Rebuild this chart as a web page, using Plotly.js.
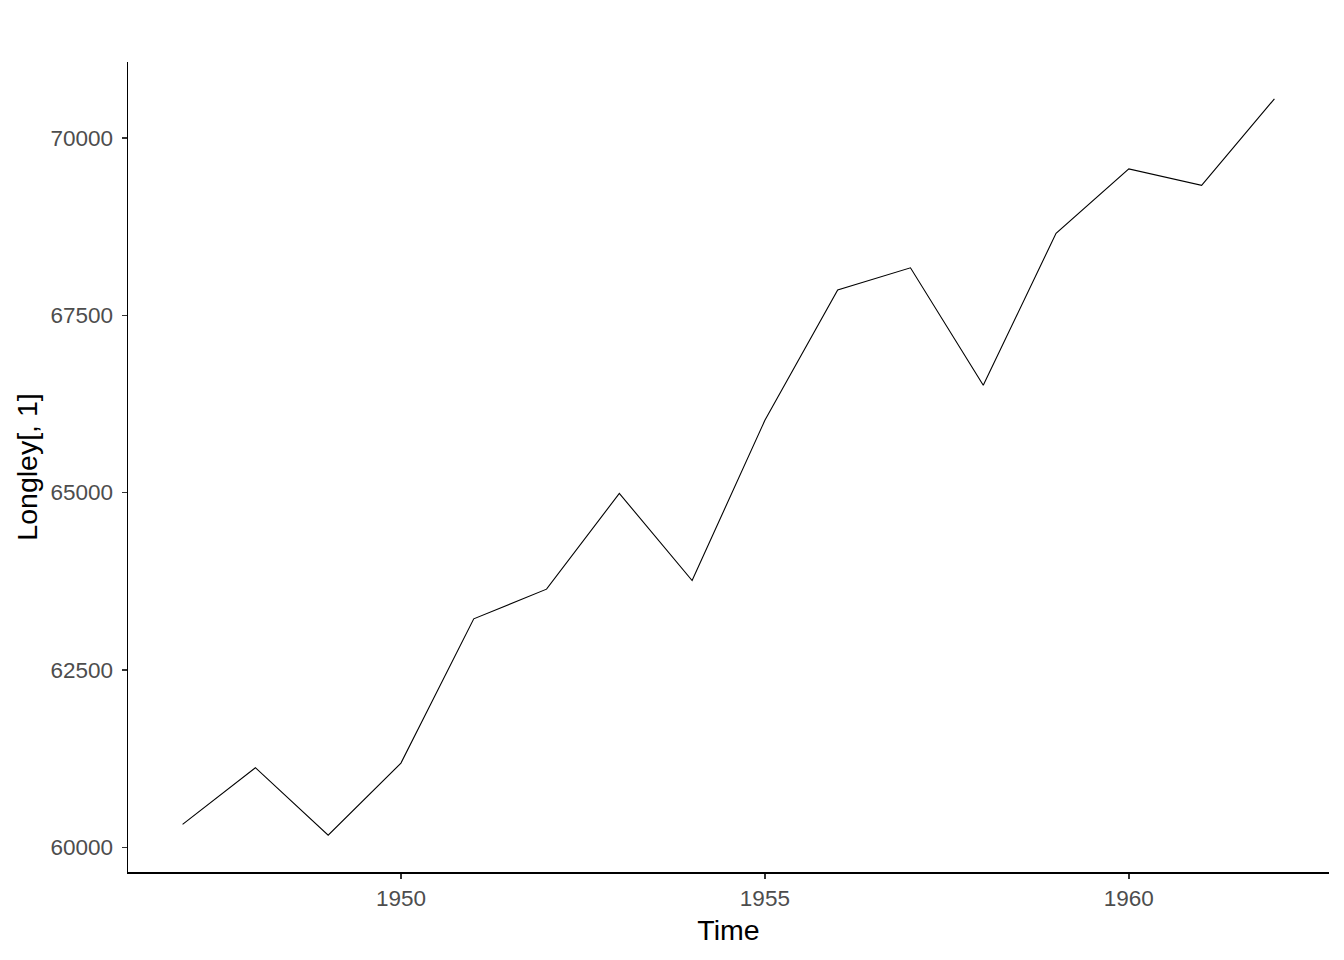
<!DOCTYPE html>
<html>
<head>
<meta charset="utf-8">
<script src="https://cdn.plot.ly/plotly-3.0.1.min.js"></script>
<style>html,body{margin:0;padding:0;background:#fff;}#chart{width:1344px;height:960px;}</style>
</head>
<body>
<div id="chart"></div>
<script>
const years = [1947,1948,1949,1950,1951,1952,1953,1954,1955,1956,1957,1958,1959,1960,1961,1962];
const employed = [60323,61122,60171,61187,63221,63639,64989,63761,66019,67857,68169,66513,68655,69564,69331,70551];
const xTicks = [1950,1955,1960];
const yTicks = [60000,62500,65000,67500,70000];

const trace = {
  x: years, y: employed, type: 'scatter', mode: 'lines',
  line: {color: '#000000', width: 1.1}, hoverinfo: 'x+y'
};
const font = {family: 'Liberation Sans, Arial, sans-serif'};
const layout = {
  width: 1344, height: 960,
  margin: {l: 128, r: 15, t: 62, b: 88},
  paper_bgcolor: '#ffffff', plot_bgcolor: '#ffffff',
  showlegend: false,
  font: font,
  xaxis: {
    range: [1946.25, 1962.75], tickvals: xTicks, ticktext: xTicks.map(String),
    showgrid: false, zeroline: false, showline: true, linecolor: '#000000', linewidth: 1.5,
    ticks: 'outside', ticklen: 5, tickwidth: 1.5, tickcolor: '#333333',
    tickfont: {family: font.family, size: 22.5, color: '#4D4D4D'},
    title: {text: 'Time', font: {family: font.family, size: 28.5, color: '#000000'}, standoff: 10}
  },
  yaxis: {
    range: [59652, 71070], tickvals: yTicks, ticktext: yTicks.map(String),
    showgrid: false, zeroline: false, showline: true, linecolor: '#000000', linewidth: 1.5,
    ticks: 'outside', ticklen: 5, tickwidth: 1.5, tickcolor: '#333333',
    ticklabelstandoff: 4,
    tickfont: {family: font.family, size: 22.5, color: '#4D4D4D'},
    title: {text: 'Longley[, 1]', font: {family: font.family, size: 28.5, color: '#000000'}, standoff: 4}
  }
};
Plotly.newPlot('chart', [trace], layout, {displayModeBar: false, staticPlot: true});
</script>
</body>
</html>
